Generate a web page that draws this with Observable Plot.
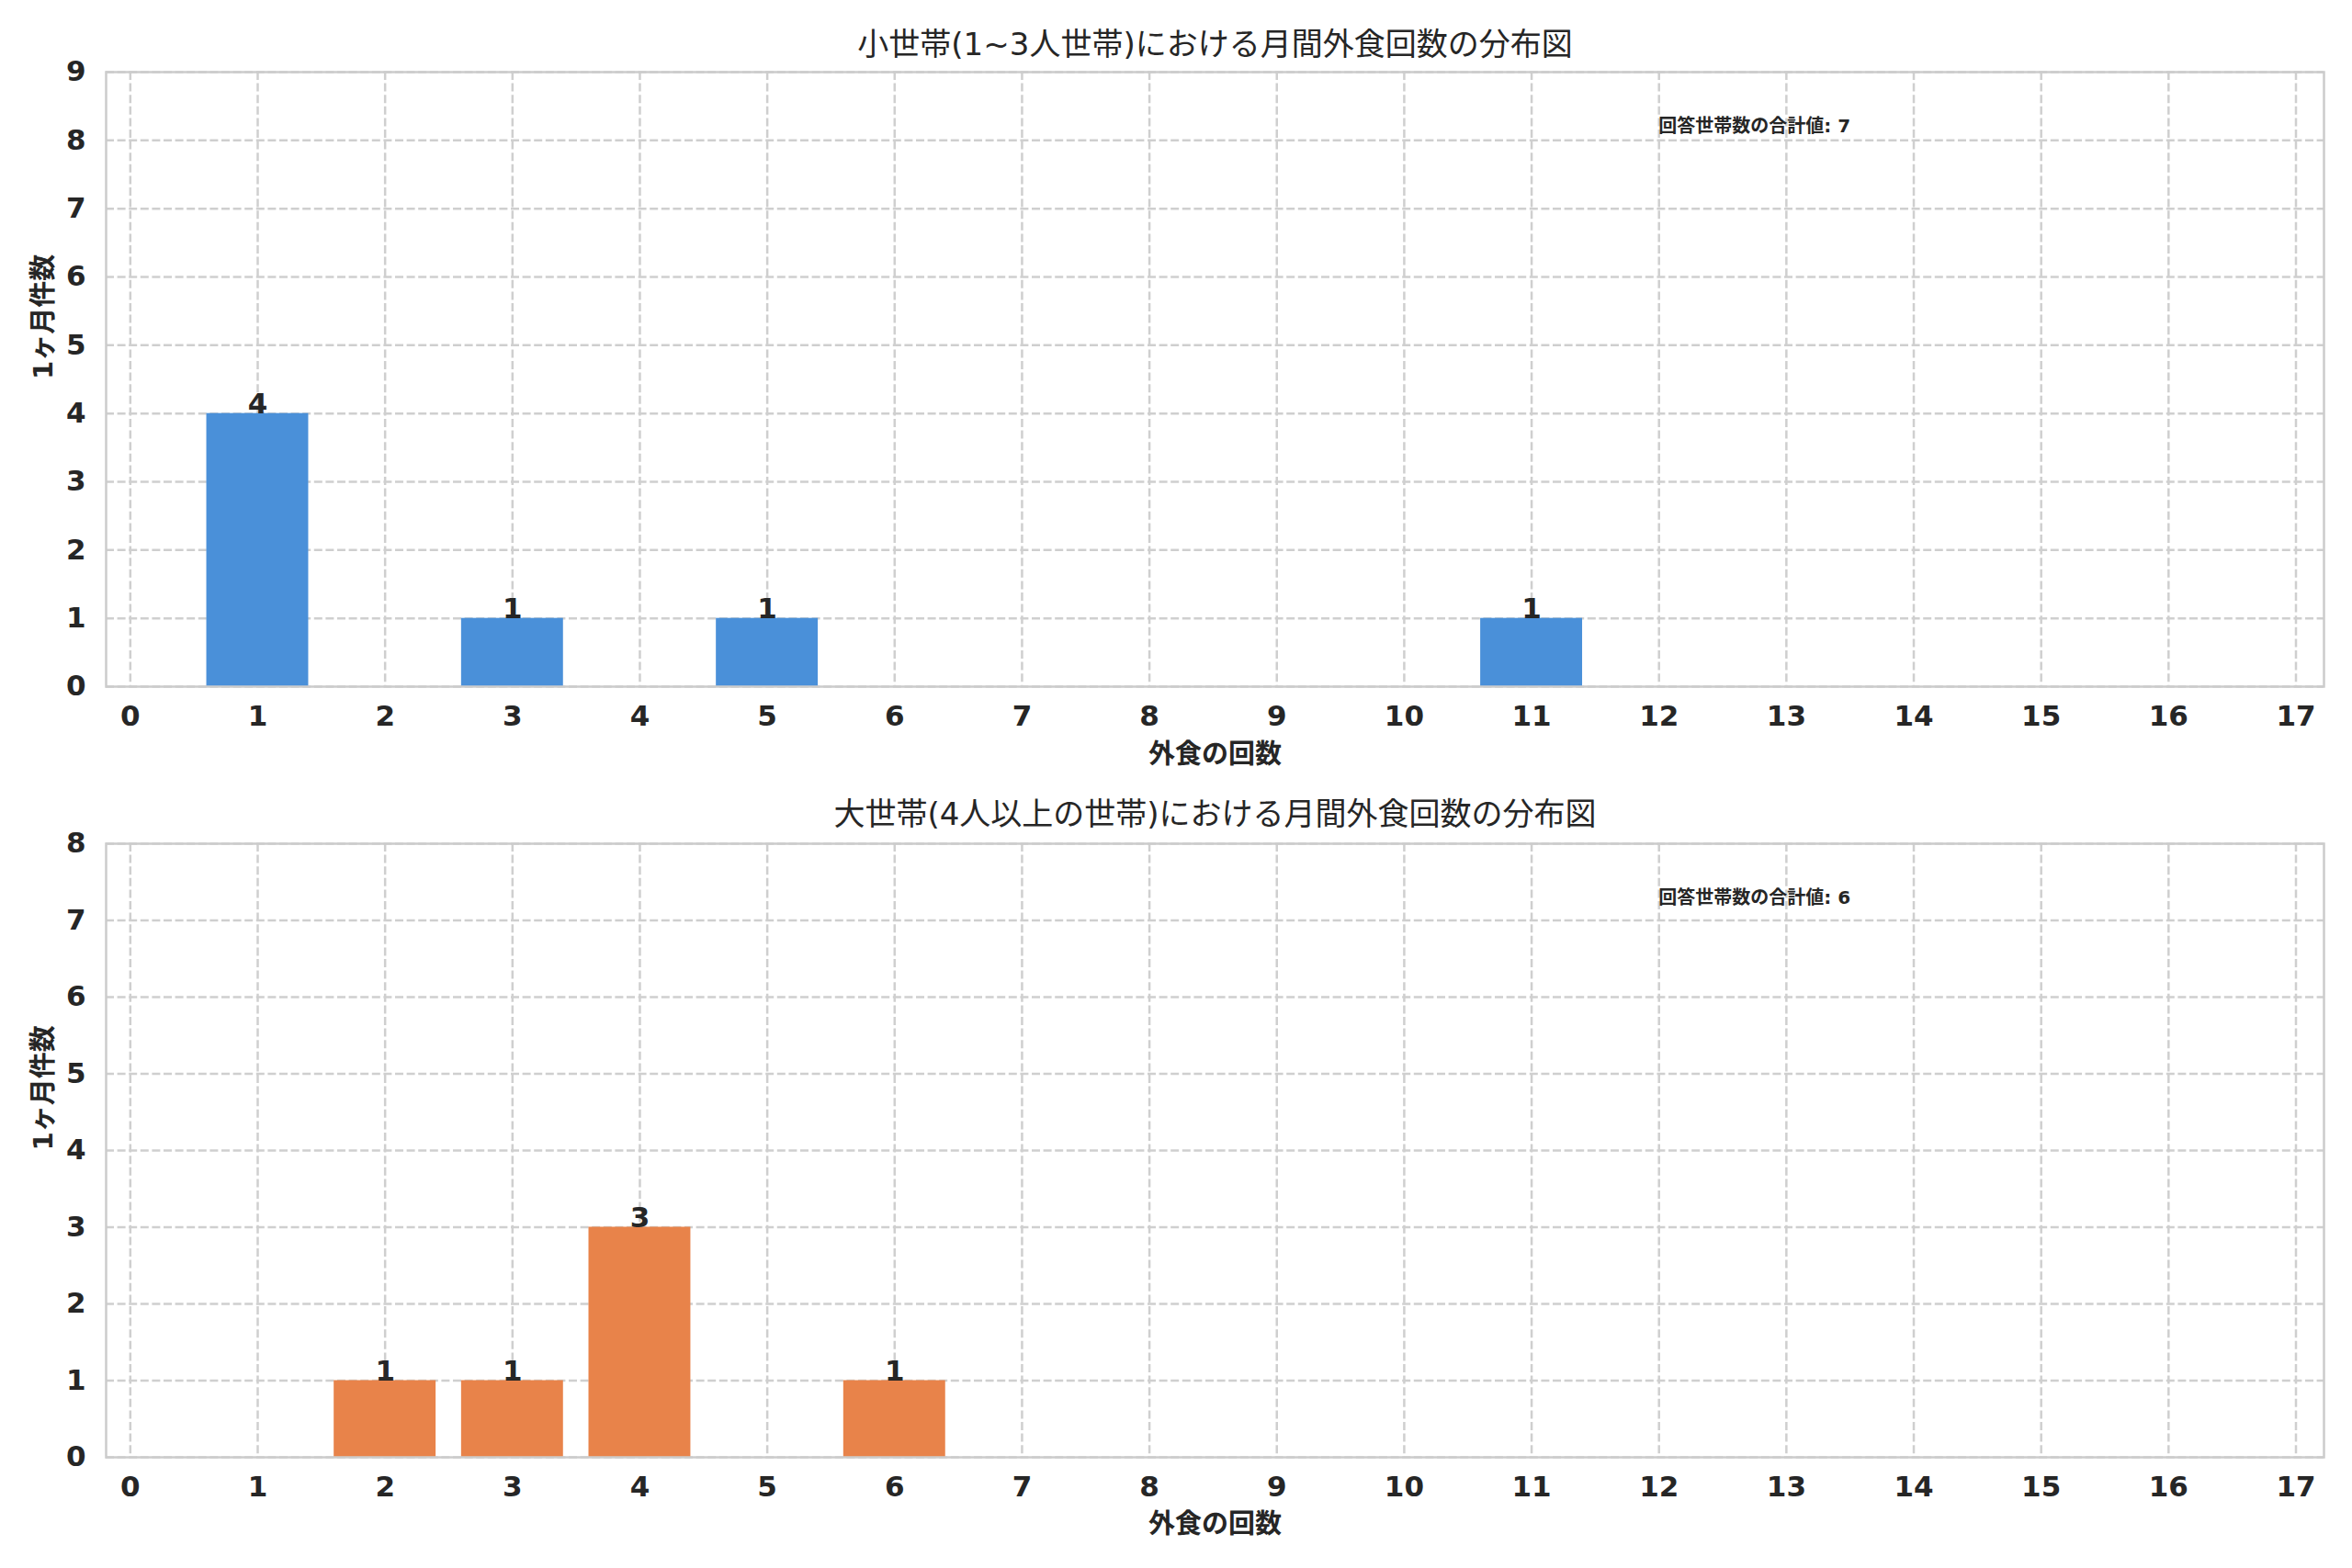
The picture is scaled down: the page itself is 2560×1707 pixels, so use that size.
<!DOCTYPE html>
<html>
<head>
<meta charset="utf-8">
<script src="https://cdn.jsdelivr.net/npm/d3@7"></script>
<script src="https://cdn.jsdelivr.net/npm/@observablehq/plot@0.6"></script>
<style>
  html, body { margin: 0; padding: 0; background: #ffffff; }
  #chart { width: 2560px; height: 1707px; }
  #chart svg { display: block; }
</style>
</head>
<body>
<div id="chart"></div>
<script>
// ---- data ----
const xTickValues = [0, 1, 2, 3, 4, 5, 6, 7, 8, 9, 10, 11, 12, 13, 14, 15, 16, 17];

const topTitle = "小世帯(1~3人世帯)における月間外食回数の分布図";
const topValues = [1, 3, 5, 11];
const topCounts = [4, 1, 1, 1];
const topYTicks = [0, 1, 2, 3, 4, 5, 6, 7, 8, 9];
const topTotal = 7;

const bottomTitle = "大世帯(4人以上の世帯)における月間外食回数の分布図";
const bottomValues = [2, 3, 4, 6];
const bottomCounts = [1, 1, 3, 1];
const bottomYTicks = [0, 1, 2, 3, 4, 5, 6, 7, 8];
const bottomTotal = 6;

const xLabel = "外食の回数";
const yLabel = "1ヶ月件数";
const annotationPrefix = "回答世帯数の合計値";

const blue = "#4A90D9";
const orange = "#E8834A";
const textColor = "#262626";
const gridColor = "#cfcfcf";
const frameColor = "#cccccc";

const W = 2560;
const marginLeft = 115;
const marginRight = 31;
const innerWidth = W - marginLeft - marginRight;

function panel({title, values, counts, yTicks, total, color, height, marginTop, marginBottom, titleDy, labelDy}) {
  const rows = values.map((v, i) => ({value: v, count: counts[i]}));
  const yMax = yTicks[yTicks.length - 1];
  return Plot.plot({
    width: W,
    height,
    marginLeft,
    marginRight,
    marginTop,
    marginBottom,
    style: {
      fontFamily: "'DejaVu Sans', 'Noto Sans CJK JP', sans-serif",
      fontSize: "31px",
      fontWeight: "bold",
      color: textColor,
      background: "#ffffff",
      overflow: "visible"
    },
    x: {domain: [-0.19, 17.22], axis: null},
    y: {domain: [0, yMax], axis: null},
    marks: [
      Plot.gridX(xTickValues, {stroke: gridColor, strokeOpacity: 1, strokeWidth: 2.5, strokeDasharray: "9,3.6"}),
      Plot.gridY(yTicks, {stroke: gridColor, strokeOpacity: 1, strokeWidth: 2.5, strokeDasharray: "9,3.6"}),
      Plot.rectY(rows, {x1: d => d.value - 0.4, x2: d => d.value + 0.4, y: "count", fill: color}),
      Plot.frame({stroke: frameColor, strokeWidth: 2.5}),
      Plot.axisX({ticks: xTickValues, tickSize: 0, tickPadding: 20, label: null, fill: textColor, fontWeight: "bold", fontSize: 31}),
      Plot.axisY({ticks: yTicks, tickSize: 0, tickPadding: 22, label: null, fill: textColor, fontWeight: "bold", fontSize: 31}),
      Plot.text(rows, {x: "value", y: "count", text: d => String(d.count), lineAnchor: "bottom", fill: textColor, fontWeight: "bold", fontSize: 31}),
      Plot.text([title], {text: d => d, frameAnchor: "top", dy: titleDy, lineAnchor: "middle", fontWeight: "normal", fontSize: 34, fill: textColor}),
      Plot.text([xLabel], {text: d => d, frameAnchor: "bottom", dy: labelDy, lineAnchor: "middle", fontWeight: "bold", fontSize: 29, fill: textColor}),
      Plot.text([yLabel], {text: d => d, frameAnchor: "left", dx: -68, rotate: -90, lineAnchor: "middle", fontWeight: "bold", fontSize: 29, fill: textColor}),
      Plot.text([`${annotationPrefix}: ${total}`], {text: d => d, frameAnchor: "top-left", dx: 0.7 * innerWidth, dy: 59, textAnchor: "start", lineAnchor: "middle", fontWeight: "bold", fontSize: 20, fill: textColor})
    ]
  });
}

const chart = document.getElementById("chart");
chart.append(panel({
  title: topTitle, values: topValues, counts: topCounts, yTicks: topYTicks, total: topTotal,
  color: blue, height: 853, marginTop: 78, marginBottom: 106, titleDy: -29, labelDy: 74
}));
chart.append(panel({
  title: bottomTitle, values: bottomValues, counts: bottomCounts, yTicks: bottomYTicks, total: bottomTotal,
  color: orange, height: 854, marginTop: 65, marginBottom: 121, titleDy: -31, labelDy: 73
}));
</script>
</body>
</html>
